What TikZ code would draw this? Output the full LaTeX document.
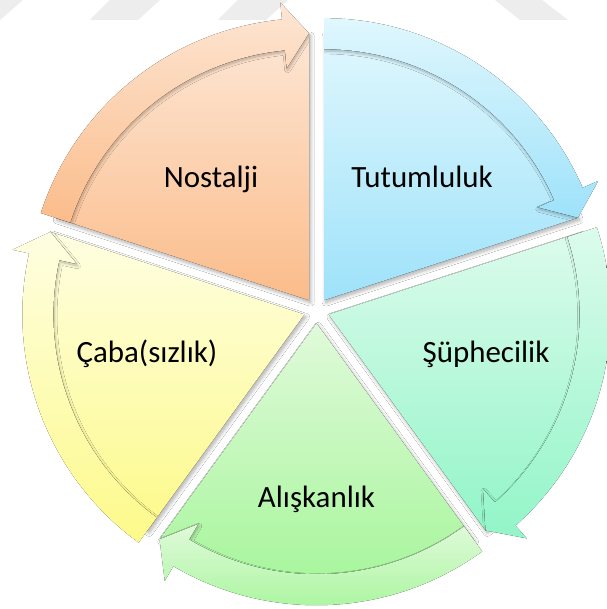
\documentclass[tikz,border=0pt]{standalone}
\usepackage{fontspec}
\setmainfont{Carlito}
\usetikzlibrary{calc,shadows.blur}

% one drawing unit = 0.025cm
\def\pxu{0.025cm}

\definecolor{orangeT}{HTML}{FDE6D4}
\definecolor{orangeB}{HTML}{FBBC8A}
\definecolor{blueT}{HTML}{E0F7FD}
\definecolor{blueB}{HTML}{9EE2FA}
\definecolor{mintT}{HTML}{DCFBEC}
\definecolor{mintB}{HTML}{92F5C8}
\definecolor{greenT}{HTML}{E0FADA}
\definecolor{greenB}{HTML}{A2F596}
\definecolor{yellowT}{HTML}{FEFEE2}
\definecolor{yellowB}{HTML}{FDFA8A}

\tikzset{
  seglabel/.style={font=\fontsize{22}{26}\selectfont, text=black, anchor=base, inner sep=0pt},
  wedgeshadow/.style={blur shadow={shadow xshift=1.2pt, shadow yshift=-1.8pt,
      shadow blur radius=2.5pt, shadow blur steps=8, shadow opacity=32}},
  bandshadow/.style={blur shadow={shadow xshift=0.6pt, shadow yshift=-1.4pt,
      shadow blur radius=2pt, shadow blur steps=8, shadow opacity=28}},
  watermark/.style={fill=black!7, draw=none},
}

% one segment of the cycle: a pie wedge with a curved arrow on its rim
% #1 bisector angle, #2 top colour, #3 bottom colour
\newcommand\cycleseg[3]{%
  \coordinate (A) at ($(C)+(#1:12.75)$);
  \pgfmathsetmacro\sa{#1+36}%
  \pgfmathsetmacro\ea{#1-36}%
  \pgfmathsetmacro\ba{#1-30.5}%
  \def\wedgepath{(A) -- ($(A)+(\sa:267)$)
    arc[start angle=\sa, end angle=\ea, radius=267*\pxu] -- cycle}%
  \def\bandpath{($(A)+(\sa:251)$) -- ($(A)+(\sa:282)$)
    arc[start angle=\sa, end angle=\ba, radius=282*\pxu]
    -- ($(A)+(\ba:299)$) -- ($(A)+(\ea:267)$) -- ($(A)+(\ba:233)$) -- ($(A)+(\ba:251)$)
    arc[start angle=\ba, end angle=\sa, radius=251*\pxu] -- cycle}%
  \fill[top color=#2, bottom color=#3, wedgeshadow] \wedgepath;
  % the arrow casts its shadow on the wedge only
  \begin{scope}
    \clip \wedgepath;
    \fill[top color=#2, bottom color=#3, bandshadow] \bandpath;
  \end{scope}
  \fill[top color=#2, bottom color=#3] \bandpath;
}

\begin{document}
\begin{tikzpicture}[x=\pxu, y=\pxu]
  \useasboundingbox (0,0) rectangle (606,609);
  \fill[white] (0,0) rectangle (606,609);

  % faint background stripes
  \fill[watermark] (0,609) -- (23,609) -- (0,589) -- cycle;
  \fill[watermark] (110,609) -- (160,609) -- (138,589) -- (90,589) -- cycle;
  \fill[watermark] (238,609) -- (288,609) -- (266,589) -- (218,589) -- cycle;
  \fill[watermark] (495,609) -- (542,609) -- (568,589) -- (520,589) -- cycle;

  \coordinate (C) at (316.5,298.5);

  \cycleseg{126}{orangeT}{orangeB}
  \cycleseg{54}{blueT}{blueB}
  \cycleseg{-18}{mintT}{mintB}
  \cycleseg{-90}{greenT}{greenB}
  \cycleseg{198}{yellowT}{yellowB}

  \node[seglabel] (nostalji) at (211,421) {Nostalji};
  \node[seglabel] (tutum) at (422,421) {Tutumluluk};
  \node[seglabel] (suphe) at (486,246) {Şüphecilik};
  \node[seglabel] (aliskan) at (316.5,101) {Alışkanlık};
  \node[seglabel] (caba) at (147,246) {Çaba(sızlık)};
\end{tikzpicture}
\end{document}
